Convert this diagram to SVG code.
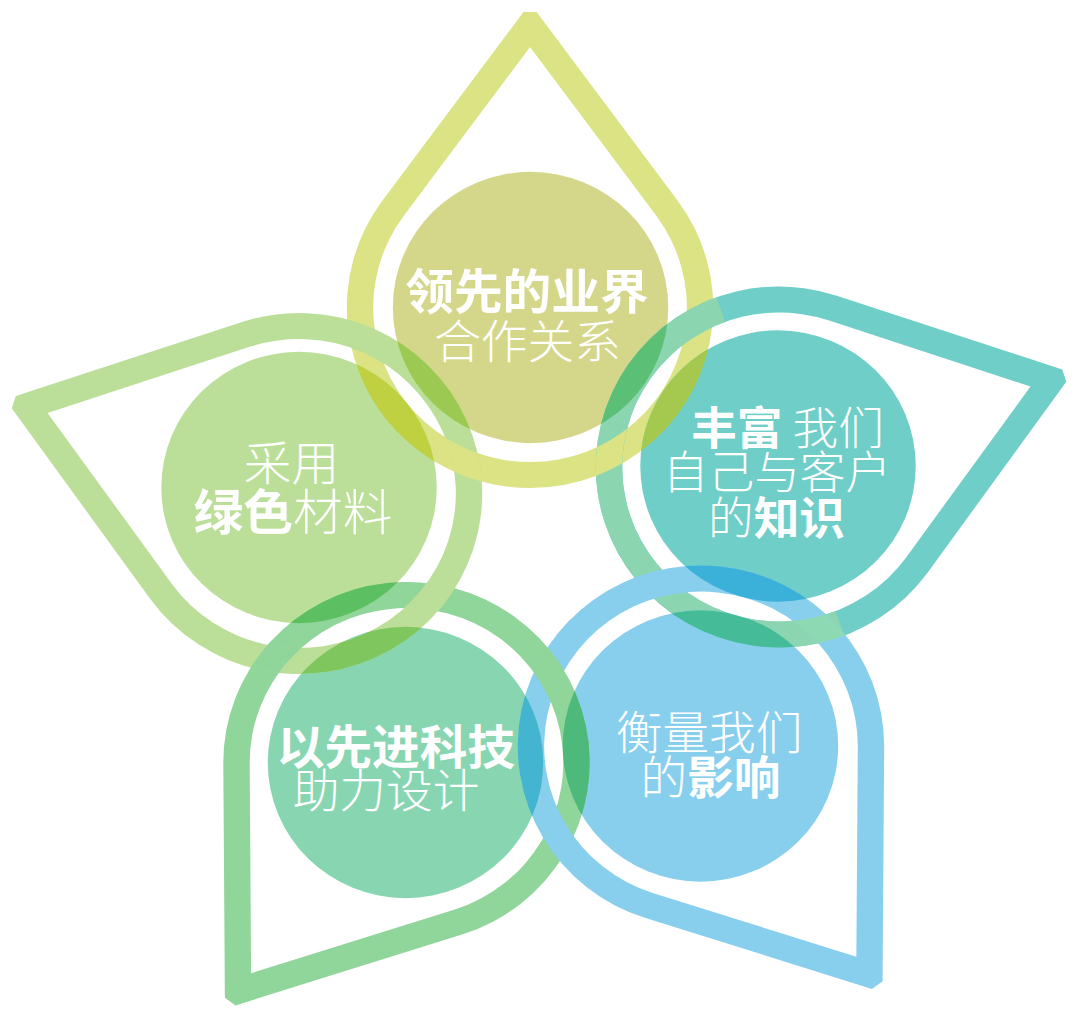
<svg xmlns="http://www.w3.org/2000/svg" width="1080" height="1013" viewBox="0 0 1080 1013">
<style>
.t{font-family:'Noto Sans CJK SC','Noto Sans',sans-serif;fill:#ffffff;text-anchor:middle}
.b{font-weight:700}
.l{font-weight:300}
</style>
<defs>
<path id="drop" fill-rule="evenodd" clip-rule="evenodd" d="M-6.5,-295.5 L6.5,-295.5 L145.34,-107.05 A180.5,180.5 0 1 1 -145.34,-107.05 Z M0,-260.5 L124.4,-91.63 A154.5,154.5 0 1 1 -124.4,-91.63 Z"/>
<clipPath id="cRT"><use href="#drop" transform="translate(522.2,307.5)"/></clipPath>
<clipPath id="cRE"><use href="#drop" transform="translate(767.5,467) rotate(72)"/></clipPath>
<clipPath id="cRB"><use href="#drop" transform="translate(690.6,746) rotate(144)"/></clipPath>
<clipPath id="cRG"><use href="#drop" transform="translate(400.5,762.5) rotate(216)"/></clipPath>
<clipPath id="cRL"><use href="#drop" transform="translate(294.6,493.5) rotate(288)"/></clipPath>
<clipPath id="cMint"><polygon points="767.5,467 857.1,700.4 682,701.9 551,592 532.6,381.5 682,232.1"/></clipPath>
<clipPath id="x1"><circle cx="357.5" cy="338.2" r="36"/></clipPath>
<clipPath id="x2"><circle cx="459.3" cy="462.8" r="36"/></clipPath>
<clipPath id="x3"><circle cx="600.4" cy="455.7" r="36"/></clipPath>
<clipPath id="x4"><circle cx="689.3" cy="318.9" r="36"/></clipPath>
<clipPath id="x5"><circle cx="810.4" cy="628.9" r="36"/></clipPath>
<clipPath id="x6"><circle cx="647.7" cy="584.1" r="36"/></clipPath>
<clipPath id="x7"><circle cx="550.3" cy="837.4" r="36"/></clipPath>
<clipPath id="x8"><circle cx="540.8" cy="671.1" r="36"/></clipPath>
<clipPath id="x9"><circle cx="426.3" cy="597" r="36"/></clipPath>
<clipPath id="x10"><circle cx="268.9" cy="659" r="36"/></clipPath>
</defs>
<rect width="1080" height="1013" fill="#ffffff"/>
<g transform="scale(1.015 1)">
<g id="node-partnership">
<use href="#drop" transform="translate(522.2,307.5)" fill="#dbe384"/>
<circle cx="522.7" cy="307.5" r="135.7" fill="#d4d78a"/>
<text class="t b" x="519.2" y="309" font-size="48">领先的业界</text>
<text class="t l" x="519.7" y="358" font-size="46">合作关系</text>
</g>
<g id="node-knowledge">
<use href="#drop" transform="translate(767.5,467) rotate(72)" fill="#6fcec7"/>
<g clip-path="url(#cMint)"><use href="#drop" transform="translate(767.5,467) rotate(72)" fill="#8bd6b1"/></g>
<circle cx="766.5" cy="466" r="135.7" fill="#6fcec7"/>
<text class="t" x="775.9" y="445" font-size="45"><tspan class="b">丰富</tspan><tspan class="l"> 我们</tspan></text>
<text class="t l" x="765.5" y="489" font-size="45">自己与客户</text>
<text class="t" x="765" y="535" font-size="45"><tspan class="l">的</tspan><tspan class="b">知识</tspan></text>
</g>
<g id="node-impact">
<use href="#drop" transform="translate(690.6,746) rotate(144)" fill="#88cfee"/>
<circle cx="690.1" cy="746" r="135.7" fill="#88cfee"/>
<text class="t l" x="698.5" y="749" font-size="46">衡量我们</text>
<text class="t" x="700" y="794" font-size="46"><tspan class="l">的</tspan><tspan class="b">影响</tspan></text>
</g>
<g id="node-technology">
<use href="#drop" transform="translate(400.5,762.5) rotate(216)" fill="#90d59a"/>
<circle cx="399.5" cy="762.5" r="135.7" fill="#88d6b1"/>
<text class="t b" x="390.1" y="764" font-size="47">以先进科技</text>
<text class="t l" x="380.3" y="807" font-size="46">助力设计</text>
</g>
<g id="node-materials">
<use href="#drop" transform="translate(294.6,493.5) rotate(288)" fill="#bbdf99"/>
<circle cx="294.6" cy="487.5" r="135.7" fill="#bbdf99"/>
<text class="t l" x="287.2" y="480" font-size="47">采用</text>
<text class="t" x="288.7" y="530" font-size="49"><tspan class="b">绿色</tspan><tspan class="l">材料</tspan></text>
</g>
<g id="overlaps">
<g clip-path="url(#cRT)"><g clip-path="url(#x1)"><use href="#drop" transform="translate(294.6,493.5) rotate(288)" fill="#bbdf99"/></g></g>
<g clip-path="url(#cRL)"><g clip-path="url(#x2)"><use href="#drop" transform="translate(522.2,307.5)" fill="#dbe384"/></g></g>
<g clip-path="url(#cRE)"><g clip-path="url(#x3)"><use href="#drop" transform="translate(522.2,307.5)" fill="#dbe384"/></g></g>
<g clip-path="url(#cRT)"><g clip-path="url(#x4)"><use href="#drop" transform="translate(767.5,467) rotate(72)" fill="#8bd6b1"/></g></g>
<g clip-path="url(#cRB)"><g clip-path="url(#x5)"><use href="#drop" transform="translate(767.5,467) rotate(72)" fill="#8dd9b3"/></g></g>
<g clip-path="url(#cRE)"><g clip-path="url(#x6)"><use href="#drop" transform="translate(690.6,746) rotate(144)" fill="#88cfee"/></g></g>
<g clip-path="url(#cRG)"><g clip-path="url(#x7)"><use href="#drop" transform="translate(690.6,746) rotate(144)" fill="#88cfee"/></g></g>
<g clip-path="url(#cRB)"><g clip-path="url(#x8)"><use href="#drop" transform="translate(400.5,762.5) rotate(216)" fill="#90d59a"/></g></g>
<g clip-path="url(#cRG)"><g clip-path="url(#x9)"><use href="#drop" transform="translate(294.6,493.5) rotate(288)" fill="#bbdf99"/></g></g>
<g clip-path="url(#cRL)"><g clip-path="url(#x10)"><use href="#drop" transform="translate(400.5,762.5) rotate(216)" fill="#90d59a"/></g></g>
<circle cx="294.6" cy="487.5" r="135.7" fill="#bfd041" clip-path="url(#cRT)"/>
<circle cx="522.7" cy="307.5" r="135.7" fill="#9cc952" clip-path="url(#cRL)"/>
<circle cx="766.5" cy="466" r="135.7" fill="#a5c94f" clip-path="url(#cRT)"/>
<circle cx="522.7" cy="307.5" r="135.7" fill="#5bbf76" clip-path="url(#cRE)"/>
<circle cx="690.1" cy="746" r="135.7" fill="#45bb98" clip-path="url(#cRE)"/>
<circle cx="766.5" cy="466" r="135.7" fill="#3bb0d8" clip-path="url(#cRB)"/>
<circle cx="399.5" cy="762.5" r="135.7" fill="#44b5d0" clip-path="url(#cRB)"/>
<circle cx="690.1" cy="746" r="135.7" fill="#4db97a" clip-path="url(#cRG)"/>
<circle cx="399.5" cy="762.5" r="135.7" fill="#80c65f" clip-path="url(#cRL)"/>
<circle cx="294.6" cy="487.5" r="135.7" fill="#5cbf62" clip-path="url(#cRG)"/>
</g>
</g>
</svg>
